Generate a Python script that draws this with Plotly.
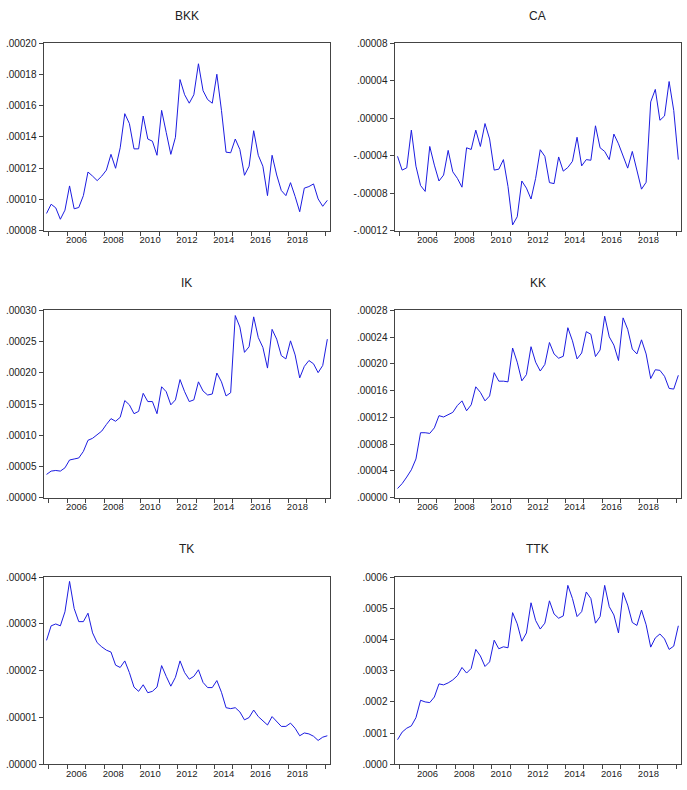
import plotly.graph_objects as go

# ---- data: quarterly observations, 2004Q4 .. 2020Q1 (62 obs) ----
start_year = 2004.875
n_obs = 62
quarters = [start_year + 0.25 * i for i in range(n_obs)]

BKK = [0.0000911, 0.0000970, 0.0000947, 0.0000874, 0.0000932, 0.0001087, 0.0000941, 0.0000949,
       0.0001025, 0.0001176, 0.0001150, 0.0001121, 0.0001150, 0.0001188, 0.0001289, 0.0001200,
       0.0001331, 0.0001549, 0.0001486, 0.0001324, 0.0001324, 0.0001534, 0.0001387, 0.0001373,
       0.0001283, 0.0001570, 0.0001429, 0.0001289, 0.0001398, 0.0001767, 0.0001670, 0.0001616,
       0.0001670, 0.0001868, 0.0001696, 0.0001639, 0.0001616, 0.0001801, 0.0001570, 0.0001303,
       0.0001299, 0.0001387, 0.0001320, 0.0001155, 0.0001213, 0.0001440, 0.0001283, 0.0001213,
       0.0001025, 0.0001283, 0.0001157, 0.0001058, 0.0001025, 0.0001108, 0.0001020, 0.0000922,
       0.0001073, 0.0001083, 0.0001100, 0.0001004, 0.0000957, 0.0000995]

CA = [-0.0000406, -0.0000553, -0.0000529, -0.0000127, -0.0000511, -0.0000717, -0.0000780, -0.0000301,
      -0.0000500, -0.0000669, -0.0000606, -0.0000343, -0.0000571, -0.0000641, -0.0000735, -0.0000315,
      -0.0000333, -0.0000127, -0.0000301, -0.0000057, -0.0000221, -0.0000553, -0.0000543, -0.0000441,
      -0.0000728, -0.0001137, -0.0001050, -0.0000669, -0.0000745, -0.0000861, -0.0000641, -0.0000336,
      -0.0000406, -0.0000686, -0.0000697, -0.0000413, -0.0000564, -0.0000525, -0.0000459, -0.0000203,
      -0.0000508, -0.0000441, -0.0000448, -0.0000081, -0.0000315, -0.0000354, -0.0000441, -0.0000169,
      -0.0000273, -0.0000400, -0.0000532, -0.0000354, -0.0000553, -0.0000756, -0.0000683, 0.0000174,
      0.0000307, -0.0000022, 0.0000024, 0.0000391, 0.0000083, -0.0000441]

IK = [0.0000373, 0.0000426, 0.0000436, 0.0000426, 0.0000478, 0.0000604, 0.0000620, 0.0000636,
      0.0000741, 0.0000919, 0.0000951, 0.0001004, 0.0001067, 0.0001172, 0.0001266, 0.0001224,
      0.0001287, 0.0001555, 0.0001487, 0.0001345, 0.0001382, 0.0001671, 0.0001539, 0.0001539,
      0.0001345, 0.0001776, 0.0001697, 0.0001487, 0.0001566, 0.0001891, 0.0001697, 0.0001539,
      0.0001566, 0.0001855, 0.0001708, 0.0001644, 0.0001660, 0.0001996, 0.0001855, 0.0001629,
      0.0001681, 0.0002916, 0.0002732, 0.0002327, 0.0002417, 0.0002895, 0.0002564, 0.0002406,
      0.0002075, 0.0002695, 0.0002538, 0.0002275, 0.0002222, 0.0002511, 0.0002286, 0.0001918,
      0.0002102, 0.0002196, 0.0002144, 0.0002002, 0.0002117, 0.0002538]

KK = [0.0000137, 0.0000211, 0.0000309, 0.0000417, 0.0000579, 0.0000971, 0.0000971, 0.0000961,
      0.0001044, 0.0001226, 0.0001206, 0.0001241, 0.0001275, 0.0001378, 0.0001447, 0.0001299,
      0.0001388, 0.0001657, 0.0001574, 0.0001447, 0.0001520, 0.0001868, 0.0001741, 0.0001741,
      0.0001731, 0.0002236, 0.0002025, 0.0001746, 0.0001839, 0.0002256, 0.0002025, 0.0001893,
      0.0001991, 0.0002319, 0.0002148, 0.0002084, 0.0002113, 0.0002540, 0.0002344, 0.0002074,
      0.0002162, 0.0002481, 0.0002442, 0.0002109, 0.0002207, 0.0002712, 0.0002403, 0.0002280,
      0.0002050, 0.0002687, 0.0002516, 0.0002221, 0.0002148, 0.0002359, 0.0002148, 0.0001780,
      0.0001912, 0.0001903, 0.0001814, 0.0001633, 0.0001623, 0.0001829]

TK = [0.0000265, 0.0000296, 0.0000300, 0.0000296, 0.0000326, 0.0000391, 0.0000333, 0.0000305,
      0.0000305, 0.0000323, 0.0000281, 0.0000260, 0.0000251, 0.0000244, 0.0000240, 0.0000212,
      0.0000207, 0.0000221, 0.0000196, 0.0000165, 0.0000156, 0.0000170, 0.0000153, 0.0000156,
      0.0000165, 0.0000211, 0.0000188, 0.0000167, 0.0000186, 0.0000221, 0.0000196, 0.0000182,
      0.0000188, 0.0000202, 0.0000175, 0.0000164, 0.0000164, 0.0000179, 0.0000154, 0.0000121,
      0.0000119, 0.0000121, 0.0000112, 0.0000095, 0.0000100, 0.0000116, 0.0000102, 0.0000093,
      0.0000084, 0.0000102, 0.0000091, 0.0000081, 0.0000081, 0.0000088, 0.0000077, 0.0000061,
      0.0000067, 0.0000065, 0.0000060, 0.0000051, 0.0000058, 0.0000061]

TTK = [0.0000789, 0.0001032, 0.0001158, 0.0001232, 0.0001495, 0.0002053, 0.0002000, 0.0001979,
       0.0002158, 0.0002579, 0.0002547, 0.0002611, 0.0002705, 0.0002842, 0.0003105, 0.0002926,
       0.0003074, 0.0003684, 0.0003474, 0.0003137, 0.0003284, 0.0003979, 0.0003705, 0.0003768,
       0.0003737, 0.0004863, 0.0004505, 0.0003947, 0.0004211, 0.0005179, 0.0004611, 0.0004337,
       0.0004526, 0.0005242, 0.0004821, 0.0004684, 0.0004758, 0.0005737, 0.0005316, 0.0004737,
       0.0004895, 0.0005526, 0.0005316, 0.0004526, 0.0004737, 0.0005737, 0.0005053, 0.0004789,
       0.0004211, 0.0005505, 0.0005105, 0.0004547, 0.0004453, 0.0004947, 0.0004474, 0.0003758,
       0.0004053, 0.0004179, 0.0004021, 0.0003684, 0.0003789, 0.0004442]

titles = ["BKK", "CA", "IK", "KK", "TK", "TTK"]
series = [BKK, CA, IK, KK, TK, TTK]

y_tickvals = [
    [0.00008, 0.00010, 0.00012, 0.00014, 0.00016, 0.00018, 0.00020],
    [-0.00012, -0.00008, -0.00004, 0.0, 0.00004, 0.00008],
    [0.0, 0.00005, 0.00010, 0.00015, 0.00020, 0.00025, 0.00030],
    [0.0, 0.00004, 0.00008, 0.00012, 0.00016, 0.00020, 0.00024, 0.00028],
    [0.0, 0.00001, 0.00002, 0.00003, 0.00004],
    [0.0, 0.0001, 0.0002, 0.0003, 0.0004, 0.0005, 0.0006],
]
y_ticktext = [
    [".00008", ".00010", ".00012", ".00014", ".00016", ".00018", ".00020"],
    ["-.00012", "-.00008", "-.00004", ".00000", ".00004", ".00008"],
    [".00000", ".00005", ".00010", ".00015", ".00020", ".00025", ".00030"],
    [".00000", ".00004", ".00008", ".00012", ".00016", ".00020", ".00024", ".00028"],
    [".00000", ".00001", ".00002", ".00003", ".00004"],
    [".0000", ".0001", ".0002", ".0003", ".0004", ".0005", ".0006"],
]

year_ticks = list(range(2005, 2021))
year_labels = ["2006", "2008", "2010", "2012", "2014", "2016", "2018"]

# ---- layout geometry (pixels -> paper) ----
W, H = 687, 790
col_px = [(43.5, 330.0), (394.5, 681.0)]
row_px = [(37.7, 228.3), (309.0, 499.3), (580.0, 770.0)]
title_px = [10.0, 281.5, 551.5]

FONT = "Arial, 'Liberation Sans', sans-serif"
TXT = "#222222"
AX = "#444444"

fig = go.Figure()
layout = dict(
    width=W, height=H, margin=dict(l=0, r=0, t=0, b=0),
    paper_bgcolor="white", plot_bgcolor="white", showlegend=False,
    font=dict(family=FONT, color=TXT),
)
annotations = []

for k, (name, vals) in enumerate(zip(titles, series)):
    r, c = divmod(k, 2)
    idx = "" if k == 0 else str(k + 1)
    xa, ya = "x" + idx, "y" + idx
    fig.add_trace(go.Scatter(x=quarters, y=vals, mode="lines",
                             line=dict(color="#1c1ce0", width=1),
                             xaxis=xa, yaxis=ya, hoverinfo="skip"))
    x0, x1 = col_px[c]
    yt, yb = row_px[r]
    layout["xaxis" + idx] = dict(
        domain=[x0 / W, x1 / W], anchor=ya, range=[2004.71, 2020.27],
        showgrid=False, zeroline=False, showline=True, mirror=True,
        linecolor=AX, linewidth=1,
        tickvals=[int(s) + 0.5 for s in year_labels], ticktext=year_labels,
        ticks="", tickfont=dict(size=9.5, color=TXT, family=FONT),
        minor=dict(tickvals=year_ticks, ticks="outside", ticklen=4,
                   tickcolor=AX, tickwidth=1, showgrid=False),
    )
    yv = y_tickvals[k]
    layout["yaxis" + idx] = dict(
        domain=[1 - yb / H, 1 - yt / H], anchor=xa, range=[yv[0], yv[-1]],
        showgrid=False, zeroline=False, showline=True, mirror=True,
        linecolor=AX, linewidth=1,
        tickvals=yv, ticktext=y_ticktext[k], ticks="outside", ticklen=4,
        tickcolor=AX, tickwidth=1,
        tickfont=dict(size=10, color=TXT, family=FONT),
    )
    annotations.append(dict(
        text=name, x=(x0 + x1) / 2 / W, y=1 - title_px[r] / H,
        xref="paper", yref="paper", xanchor="center", yanchor="middle",
        showarrow=False, font=dict(size=12, color=TXT, family=FONT)))

layout["annotations"] = annotations
fig.update_layout(**layout)
fig.write_html("out.html")
